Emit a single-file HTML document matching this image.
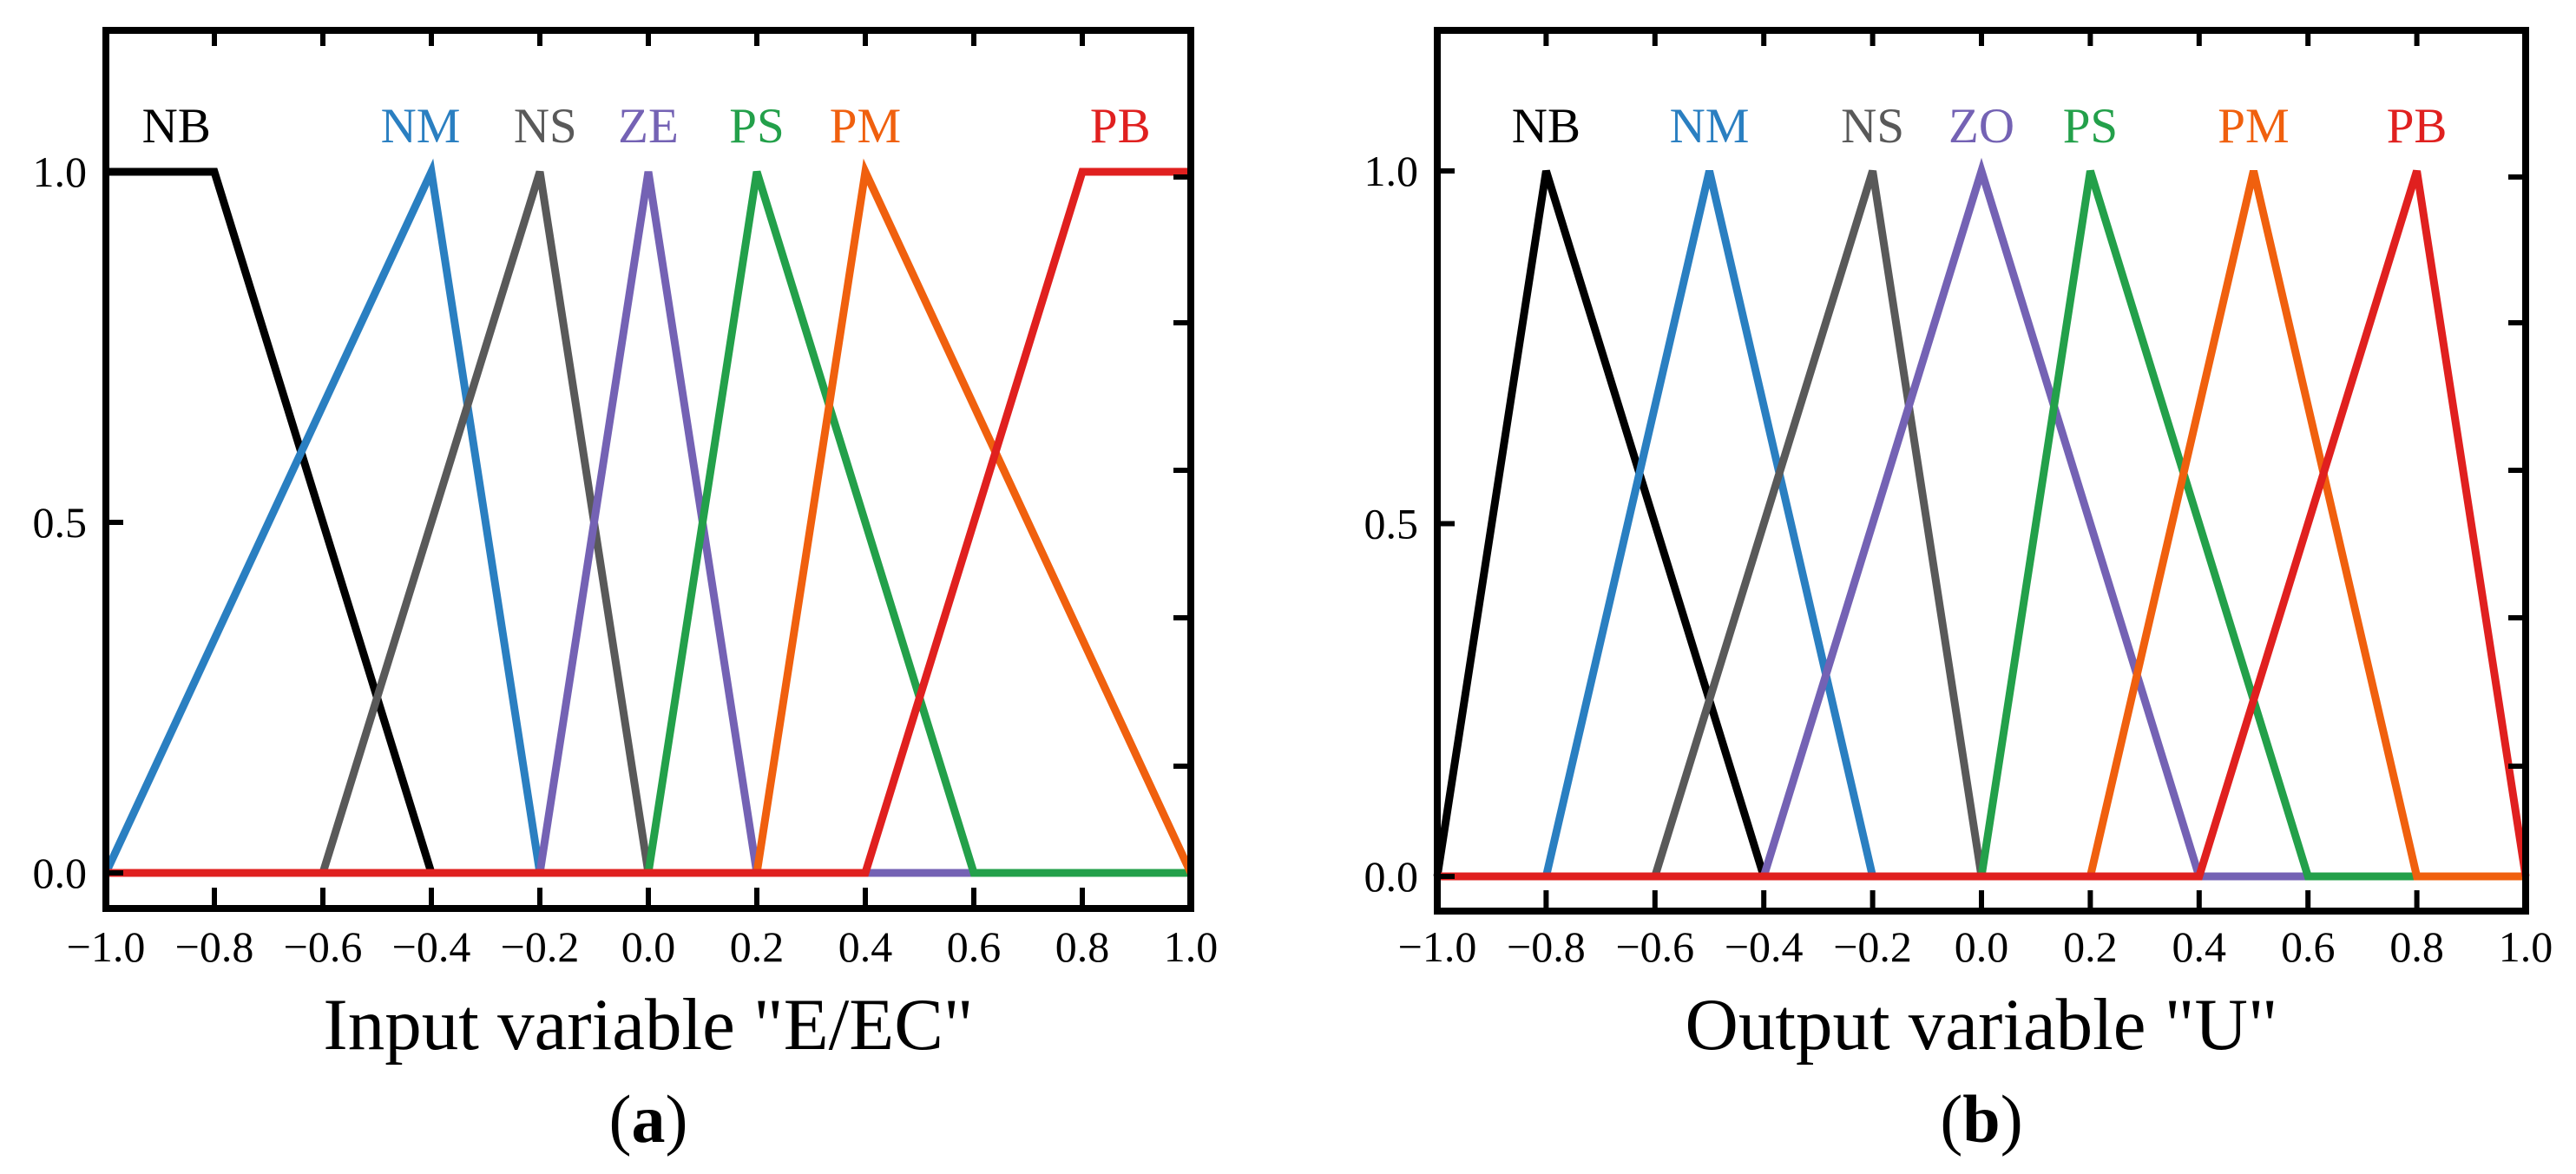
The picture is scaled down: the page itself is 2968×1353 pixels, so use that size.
<!DOCTYPE html>
<html><head><meta charset="utf-8"><style>
html,body{margin:0;padding:0;background:#fff;}
svg{display:block;font-family:"Liberation Serif",serif;}
</style></head><body>
<svg id="fig" width="2968" height="1353" viewBox="0 0 2968 1353" xmlns="http://www.w3.org/2000/svg"></svg>
<script>
// ---- data ----
const xTicks = [-1.0,-0.8,-0.6,-0.4,-0.2,0.0,0.2,0.4,0.6,0.8,1.0];
const xTickLabels = ["\u22121.0","\u22120.8","\u22120.6","\u22120.4","\u22120.2","0.0","0.2","0.4","0.6","0.8","1.0"];
const yTicks = [0.0,0.5,1.0];
const yTickLabels = ["0.0","0.5","1.0"];
const seriesColors = ["#000000","#2a7fc1","#595959","#7462b4","#23a04a","#f0600e","#e0201f"];

const inputNames = ["NB","NM","NS","ZE","PS","PM","PB"];
const inputX = [
  [-1,-0.8,-0.4,1],
  [-1,-0.4,-0.2,1],
  [-1,-0.6,-0.2,0,1],
  [-1,-0.2,0,0.2,1],
  [-1,0,0.2,0.6,1],
  [-1,0.2,0.4,1],
  [-1,0.4,0.8,1]
];
const inputY = [
  [1,1,0,0],
  [0,1,0,0],
  [0,0,1,0,0],
  [0,0,1,0,0],
  [0,0,1,0,0],
  [0,0,1,0],
  [0,0,1,1]
];
const inputLabelX = [-0.87,-0.42,-0.19,0.0,0.2,0.4,0.87];

const outputNames = ["NB","NM","NS","ZO","PS","PM","PB"];
const outputX = [
  [-1,-0.8,-0.4,1],
  [-1,-0.8,-0.5,-0.2,1],
  [-1,-0.6,-0.2,0,1],
  [-1,-0.4,0,0.4,1],
  [-1,0,0.2,0.6,1],
  [-1,0.2,0.5,0.8,1],
  [-1,0.4,0.8,1]
];
const outputY = [
  [0,1,0,0],
  [0,0,1,0,0],
  [0,0,1,0,0],
  [0,0,1,0,0],
  [0,0,1,0,0],
  [0,0,1,0,0],
  [0,0,1,0]
];
const outputLabelX = [-0.8,-0.5,-0.2,0.0,0.2,0.5,0.8];

// ---- drawing ----
const NS_ = "http://www.w3.org/2000/svg";
const svg = document.getElementById('fig');
function mk(tag, attrs, parent){
  const e = document.createElementNS(NS_, tag);
  for (const k in attrs) e.setAttribute(k, attrs[k]);
  (parent||svg).appendChild(e);
  return e;
}
function panel(cfg){
  const g = mk('g', {});
  
  
  const sx = v => cfg.x0 + (v + 1) / 2 * (cfg.x1 - cfg.x0);
  const sy = v => cfg.y0 + v * (cfg.y1 - cfg.y0);
  cfg.xs.forEach((xs, i) => {
    const pts = xs.map((x, j) => sx(x).toFixed(1) + ',' + sy(cfg.ys[i][j]).toFixed(1)).join(' ');
    const p = mk('polyline', {points: pts, fill: 'none', stroke: seriesColors[i], 'stroke-width': 9, 'stroke-linejoin': 'miter'}, g);
    
    
    const t = mk('text', {x: sx(cfg.labelX[i]), y: 164, 'font-size': 57, fill: seriesColors[i], 'text-anchor': 'middle'}, g);
    t.textContent = cfg.names[i];
    
    
  });
  const fr = mk('rect', {x: cfg.x0, y: 35, width: cfg.x1 - cfg.x0, height: cfg.fb - 35, fill: 'none', stroke: '#000', 'stroke-width': 8}, g);
  
  
  xTicks.forEach((v, i) => {
    const x = sx(v);
    if (i > 0 && i < xTicks.length - 1) {
      mk('line', {x1: x, x2: x, y1: cfg.fb, y2: cfg.fb - 24, stroke: '#000', 'stroke-width': 6}, g);
      mk('line', {x1: x, x2: x, y1: 35, y2: 53, stroke: '#000', 'stroke-width': 6}, g);
    }
    const t = mk('text', {x: x, y: 1108, 'font-size': 50, 'text-anchor': 'middle', fill: '#000'}, g);
    t.textContent = xTickLabels[i];
    
    
  });
  yTicks.forEach((v, i) => {
    const y = sy(v);
    mk('line', {x1: cfg.x0, x2: cfg.x0 + 20, y1: y, y2: y, stroke: '#000', 'stroke-width': 6}, g);
    const t = mk('text', {x: cfg.x0 - 22, y: y + 17, 'font-size': 50, 'text-anchor': 'end', fill: '#000'}, g);
    t.textContent = yTickLabels[i];
    
    
  });
  [204, 372, 542, 712, 883].forEach(y => {
    mk('line', {x1: cfg.x1, x2: cfg.x1 - 20, y1: y, y2: y, stroke: '#000', 'stroke-width': 6}, g);
  });
  const xt = mk('text', {x: (cfg.x0 + cfg.x1) / 2, y: 1209, 'font-size': 85, 'text-anchor': 'middle', fill: '#000'}, g);
  xt.textContent = cfg.title;
  
  
  const pl = mk('text', {x: (cfg.x0 + cfg.x1) / 2, y: 1316, 'font-size': 78, 'text-anchor': 'middle', fill: '#000'}, g);
  pl.innerHTML = '(<tspan font-weight="bold">' + cfg.tag + '</tspan>)';
  
  
}
panel({name: 'input-panel', x0: 122, x1: 1372, y0: 1006, y1: 198, fb: 1047,
  xs: inputX, ys: inputY, names: inputNames, labelX: inputLabelX,
  title: 'Input variable "E/EC"', tag: 'a'});
panel({name: 'output-panel', x0: 1656, x1: 2910, y0: 1010, y1: 197, fb: 1050,
  xs: outputX, ys: outputY, names: outputNames, labelX: outputLabelX,
  title: 'Output variable "U"', tag: 'b'});
</script>
</body></html>
